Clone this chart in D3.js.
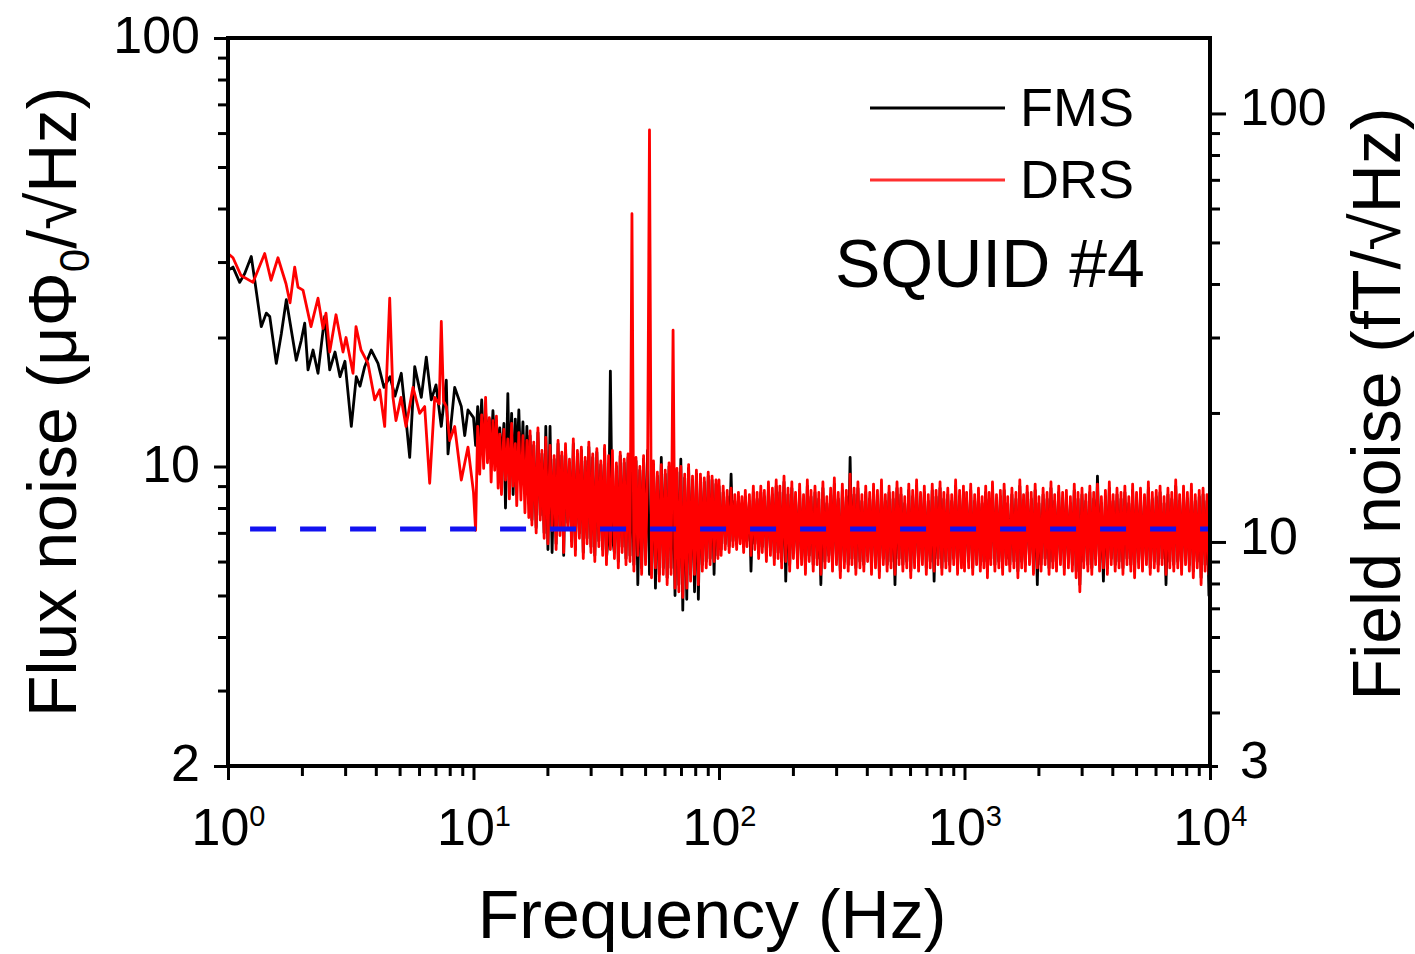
<!DOCTYPE html>
<html>
<head>
<meta charset="utf-8">
<script src="https://cdn.jsdelivr.net/npm/d3@7"></script>
<style>
  body { margin: 0; background: #fff; }
  svg { display: block; }
  text { font-family: "Liberation Sans", Arial, Helvetica, sans-serif; fill: #000; }
</style>
</head>
<body>
<svg id="chart" width="1415" height="954"></svg>
<script>
// ---------------- DATA ----------------
const xMajorTicks = [1, 10, 100, 1000, 10000];
const xTickExponents = ["0", "1", "2", "3", "4"];
const leftMajorTicks = [2, 10, 100];
const rightMajorTicks = [3, 10, 100];
const seriesNames = ["FMS", "DRS"];
const annotation = "SQUID #4";
const whiteNoiseLevel = 7.15;          // µΦ0/√Hz (blue dashed)
const whiteNoiseRange = [1.23, 10000]; // Hz

// Low-frequency part (1–10 Hz), read point by point
const fmsLowFreq = [
  1.000,1.048,1.116,1.170,1.244,1.285,1.366,1.432,1.479,1.573,
  1.649,1.728,1.811,1.897,1.988,2.053,2.118,2.220,2.326,2.477,
  2.596,2.729,2.859,2.995,3.179,3.332,3.449,3.604,3.834,4.083,
  4.319,4.570,4.788,5.080,5.260,5.497,5.762,6.129,6.423,6.731,
  7.035,7.393,7.748,7.873,8.383,8.920,9.209,9.497
];
const fmsLowNoise = [
  28.7,29.2,26.9,28.2,30.9,27.2,21.2,22.8,22.4,17.4,
  20.4,24.5,20.8,17.7,19.7,21.6,16.8,18.7,16.5,22.4,
  16.8,18.5,16.2,17.6,12.4,16.2,15.4,17.1,18.7,17.4,
  15.3,16.2,14.6,16.5,13.6,10.5,17.1,14.5,18.0,14.3,
  15.5,12.4,15.9,10.7,15.3,13.8,11.8,13.55
];
const drsLowFreq = [
  1.000,1.048,1.130,1.264,1.411,1.497,1.598,1.723,1.789,1.869,
  1.928,2.021,2.178,2.326,2.438,2.507,2.596,2.754,2.941,3.025,
  3.230,3.322,3.482,3.718,3.960,4.149,4.348,4.557,4.700,4.834,
  5.067,5.310,5.669,6.036,6.326,6.630,6.950,7.25,7.393,7.55,
  7.748,8.000,8.383,8.920,9.497
];
const drsLowNoise = [
  31.4,30.7,27.9,26.9,31.4,27.2,30.7,26.7,24.1,29.2,
  26.2,25.8,21.2,24.7,21.0,22.8,18.5,22.6,18.5,20.0,
  16.5,21.2,18.7,17.4,14.3,15.1,12.4,24.7,14.5,12.8,
  14.5,12.4,15.3,13.3,13.8,9.14,14.5,14.0,21.8,14.2,
  13.8,11.5,12.4,9.30,11.1
];

// Dense part (10 Hz – 10 kHz): common frequency grid (Hz)
const gridFreq = [
  10.0,10.2,10.4,10.6,10.8,11.0,11.2,11.4,11.6,11.8,
  12.0,12.2,12.4,12.6,12.8,13.0,13.3,13.5,13.8,14.0,
  14.3,14.5,14.8,15.0,15.3,15.6,15.9,16.2,16.5,16.8,
  17.0,17.3,17.6,18.0,18.3,18.7,19.0,19.4,19.7,20.1,
  20.5,20.9,21.3,21.7,22.1,22.5,22.9,23.3,23.7,24.2,
  24.6,25.1,25.5,26.0,26.5,27.0,27.5,28.0,28.5,29.0,
  29.5,30.1,30.6,31.2,31.8,32.4,33.0,33.6,34.2,34.8,
  35.5,36.1,36.8,37.5,38.2,38.9,39.6,40.3,41.1,41.8,
  42.6,43.4,44.2,45.0,45.9,46.7,47.6,48.4,49.3,50.2,
  51.2,52.1,53.1,54.1,55.1,56.1,57.1,58.2,59.3,60.4,
  61.5,62.6,63.8,65.0,66.2,67.4,68.6,69.9,71.2,72.5,
  73.9,75.2,76.6,78.0,79.5,80.9,82.4,84.0,85.5,87.1,
  88.7,90.4,92.0,93.7,95.5,97.2,99.0,
  100,102,104,106,108,110,112,114,116,118,
  120,122,124,126,128,130,133,135,138,140,
  143,145,148,150,153,156,159,162,165,168,
  171,174,177,180,184,187,191,194,198,201,
  205,209,213,217,221,225,229,233,237,242,
  246,251,255,260,265,270,275,280,285,290,
  295,301,306,312,318,324,330,336,342,348,
  355,361,368,375,382,389,396,403,411,418,
  426,434,442,450,459,467,476,484,493,502,
  512,521,531,541,551,561,571,582,593,604,
  615,626,638,650,662,674,686,699,712,725,
  739,752,766,780,795,809,824,840,855,871,
  887,904,920,937,955,972,990,
  1000,1020,1040,1060,1080,1100,1120,1140,1160,1180,
  1200,1220,1240,1260,1280,1300,1330,1350,1380,1400,
  1430,1450,1480,1500,1530,1560,1590,1620,1650,1680,
  1710,1740,1770,1800,1840,1870,1910,1940,1980,2010,
  2050,2090,2130,2170,2210,2250,2290,2330,2370,2420,
  2460,2510,2550,2600,2650,2700,2750,2800,2850,2900,
  2950,3010,3060,3120,3180,3240,3300,3360,3420,3480,
  3550,3610,3680,3750,3820,3890,3960,4030,4110,4180,
  4260,4340,4420,4500,4590,4670,4760,4840,4930,5020,
  5120,5210,5310,5410,5510,5610,5710,5820,5930,6040,
  6150,6260,6380,6500,6620,6740,6860,6990,7120,7250,
  7390,7520,7660,7800,7950,8090,8240,8400,8550,8710,
  8870,9040,9200,9370,9550,9720,9900,10000
];
// FMS (black) flux noise on the grid (µΦ0/√Hz)
const fmsGridNoise = [
  13.0,11.2,13.8,11.6,14.3,11.0,13.4,11.5,12.9,10.8,
  13.5,11.2,12.8,10.6,12.3,10.2,12.6,8.0,14.8,9.6,
  13.3,8.6,12.9,9.8,13.55,9.5,12.7,8.9,12.4,8.2,
  11.8,7.5,11.2,7.2,12.0,7.7,10.7,7.0,12.4,6.4,
  12.4,6.3,10.4,6.6,11.3,7.1,10.6,6.2,11.0,7.4,
  10.2,6.7,11.3,6.4,10.7,7.0,10.9,6.3,10.3,6.8,
  11.1,6.5,10.5,6.2,10.8,6.7,10.1,6.4,11.0,6.1,
  7.0,16.7,6.8,6.3,10.0,6.0,10.6,6.5,10.2,6.1,
  10.5,6.2,10.3,5.9,10.3,5.3,9.8,5.8,10.4,6.1,
  10.9,5.6,5.7,10.1,5.2,9.5,5.6,10.5,5.8,9.6,
  5.5,10.0,5.8,9.8,5.0,9.7,5.3,10.4,4.62,9.4,
  4.9,9.9,5.6,9.3,5.1,9.6,4.9,9.4,5.9,9.2,
  6.0,9.5,6.1,9.3,5.6,9.1,6.2,
  9.0,6.4,8.7,6.6,8.5,6.5,9.6,6.7,8.3,6.6,
  8.4,6.8,8.2,6.5,8.5,6.7,8.3,5.7,8.7,6.6,
  8.4,6.3,8.7,6.5,8.5,6.2,8.9,6.4,8.6,6.1,
  9.0,6.3,8.7,6.0,9.2,5.4,8.6,5.9,8.9,6.3,
  8.4,6.0,8.8,6.1,8.3,5.8,9.0,6.2,8.5,5.9,
  8.7,6.1,8.4,5.3,8.9,6.0,8.2,6.2,8.6,5.9,
  9.1,6.1,8.4,5.7,8.8,6.0,8.5,5.9,10.5,6.1,
  8.6,5.8,8.9,6.0,8.3,5.9,8.7,6.2,8.4,5.8,
  8.8,6.0,8.5,5.7,9.0,6.1,8.3,5.9,8.7,6.0,
  8.4,5.3,8.9,6.1,8.6,5.9,8.2,6.0,8.8,5.7,
  8.5,6.0,9.0,5.9,8.4,6.1,8.7,5.8,8.3,6.0,
  8.8,5.4,8.5,6.1,8.9,5.8,8.4,6.0,8.6,5.9,
  8.3,6.1,9.0,5.8,8.5,6.0,8.7,
  5.9,8.4,6.0,8.8,5.8,8.3,6.1,8.6,5.9,8.2,
  6.0,8.7,5.7,8.4,6.1,8.9,5.9,8.3,6.0,8.5,
  5.8,8.8,6.1,8.2,5.9,8.6,6.0,8.4,5.7,9.0,
  6.0,8.3,5.9,8.7,6.1,8.4,5.8,8.8,5.3,8.2,
  5.9,8.6,6.1,8.4,5.8,8.9,6.0,8.3,5.9,8.7,
  6.1,8.4,5.8,8.5,6.0,8.2,5.9,8.8,5.7,8.4,
  5.3,8.6,6.0,8.3,5.9,8.7,5.8,8.4,6.1,9.5,
  5.9,8.2,5.4,8.5,5.8,8.9,6.1,8.3,5.9,8.6,
  6.0,8.4,5.8,8.7,6.1,8.2,5.9,8.8,5.7,8.4,
  6.0,8.6,5.9,8.3,6.1,8.9,5.8,8.4,6.0,8.5,
  5.9,8.7,6.1,8.2,5.3,8.6,6.0,8.4,5.9,9.0,
  6.0,8.3,5.8,8.7,6.1,8.4,5.9,8.8,5.7,8.3,
  6.0,8.5,5.5,8.6,5.9,8.3,5.0,6.8
];
// DRS (red) flux noise on the grid (µΦ0/√Hz)
const drsGridNoise = [
  8.7,7.1,12.4,9.6,13.2,9.9,14.5,10.2,13.0,9.2,
  12.8,9.8,13.1,8.9,11.9,8.6,12.2,9.3,11.6,8.4,
  12.6,9.0,11.3,8.1,12.0,8.35,11.8,7.8,11.5,7.6,
  12.1,7.3,11.4,7.0,12.3,7.5,10.9,6.8,11.7,6.6,
  11.2,7.1,10.6,6.4,11.5,6.9,10.8,6.3,11.3,7.2,
  10.4,6.5,11.6,6.2,10.9,6.8,11.1,6.1,10.5,6.6,
  11.4,6.3,10.7,6.0,11.0,6.5,10.3,6.2,11.2,5.9,
  10.6,6.4,10.9,6.1,10.2,5.8,10.8,6.3,10.4,5.9,
  10.7,6.0,38.9,5.7,10.5,6.2,10.0,5.6,10.6,5.9,
  9.9,61.0,5.5,10.3,5.8,9.7,5.4,10.1,5.6,9.8,
  5.3,10.2,5.6,20.8,5.2,9.9,5.1,10.0,4.95,9.6,
  5.2,10.1,5.4,9.5,5.6,9.8,5.3,9.6,5.7,9.4,
  5.8,9.7,5.9,9.5,6.0,9.3,6.1,
  9.3,6.2,9.0,6.4,8.8,6.3,8.9,6.5,8.6,6.4,
  8.7,6.6,8.5,6.3,8.8,6.5,8.6,6.2,9.0,6.4,
  8.7,6.1,9.0,6.3,8.8,6.0,9.2,6.2,8.9,5.9,
  9.3,6.1,9.0,5.8,9.5,6.0,8.9,5.7,9.2,6.1,
  8.7,5.8,9.1,5.9,8.6,5.6,9.3,6.0,8.8,5.7,
  9.0,5.9,8.7,5.6,9.2,5.8,8.5,6.0,8.9,5.7,
  9.4,5.9,8.7,5.5,9.1,5.8,8.8,5.7,9.6,5.9,
  8.9,5.6,9.2,5.8,8.6,5.7,9.0,6.0,8.7,5.6,
  9.1,5.8,8.8,5.5,9.3,5.9,8.6,5.7,9.0,5.8,
  8.7,5.6,9.2,5.9,8.9,5.7,8.5,5.8,9.1,5.5,
  8.8,5.8,9.3,5.7,8.7,5.9,9.0,5.6,8.6,5.8,
  9.1,5.7,8.8,5.9,9.2,5.6,8.7,5.8,8.9,5.7,
  8.6,5.9,9.3,5.6,8.8,5.8,9.0,
  5.7,8.7,5.8,9.1,5.6,8.6,5.9,8.9,5.7,8.5,
  5.8,9.0,5.5,8.7,5.9,9.2,5.7,8.6,5.8,8.8,
  5.6,9.1,5.9,8.5,5.7,8.9,5.8,8.7,5.5,9.3,
  5.8,8.6,5.7,9.0,5.9,8.7,5.6,9.1,5.8,8.5,
  5.7,8.9,5.9,8.7,5.6,9.2,5.8,8.6,5.7,9.0,
  5.9,8.7,5.6,8.8,5.8,8.5,5.7,9.1,5.5,8.7,
  5.1,8.9,5.8,8.6,5.7,9.0,5.6,8.7,5.9,9.1,
  5.7,8.5,5.8,8.8,5.6,9.2,5.9,8.6,5.7,8.9,
  5.8,8.7,5.6,9.0,5.9,8.5,5.7,9.1,5.5,8.7,
  5.8,8.9,5.7,8.6,5.9,9.2,5.6,8.7,5.8,8.8,
  5.7,9.0,5.9,8.5,5.6,8.9,5.8,8.7,5.7,9.3,
  5.8,8.6,5.6,9.0,5.9,8.7,5.7,9.1,5.5,8.6,
  5.8,8.8,5.3,8.9,5.7,8.6,5.6,7.2
];

// ---------------- CHART ----------------
const svg = d3.select("#chart");
const plot = { left: 228, right: 1210, top: 38, bottom: 766 };

const x  = d3.scaleLog().domain([1, 1e4]).range([plot.left, plot.right]);
const yL = d3.scaleLog().domain([2, 100]).range([plot.bottom, plot.top]);
const yR = d3.scaleLog().domain([3, 150]).range([plot.bottom, plot.top]);

const fmsFreq = fmsLowFreq.concat(gridFreq), fmsNoise = fmsLowNoise.concat(fmsGridNoise);
const drsFreq = drsLowFreq.concat(gridFreq), drsNoise = drsLowNoise.concat(drsGridNoise);
const zip = (f, v) => f.map((d, i) => ({ f: d, v: v[i] })).filter(d => d.v != null);
const fms = zip(fmsFreq, fmsNoise);
const drs = zip(drsFreq, drsNoise);

svg.append("defs").append("clipPath").attr("id", "plotClip")
  .append("rect")
  .attr("x", plot.left).attr("y", plot.top)
  .attr("width", plot.right - plot.left).attr("height", plot.bottom - plot.top);

const line = d3.line().x(d => x(d.f)).y(d => yL(d.v));
const gData = svg.append("g").attr("clip-path", "url(#plotClip)");

gData.append("path").datum(fms).attr("d", line)
  .attr("fill", "none").attr("stroke", "#000").attr("stroke-width", 2.8)
  .attr("stroke-linejoin", "round");
gData.append("path").datum(drs).attr("d", line)
  .attr("fill", "none").attr("stroke", "#ff0000").attr("stroke-width", 2.8)
  .attr("stroke-linejoin", "round");
gData.append("path")
  .datum(whiteNoiseRange.map(f => ({ f, v: whiteNoiseLevel })))
  .attr("d", line)
  .attr("fill", "none").attr("stroke", "#1212f0").attr("stroke-width", 5)
  .attr("stroke-dasharray", "26,24");

// frame
svg.append("rect")
  .attr("x", plot.left).attr("y", plot.top)
  .attr("width", plot.right - plot.left).attr("height", plot.bottom - plot.top)
  .attr("fill", "none").attr("stroke", "#000").attr("stroke-width", 4);

function styleAxis(g) {
  g.select(".domain").remove();
  g.selectAll(".tick line").attr("stroke", "#000").attr("stroke-width", 3);
  g.selectAll(".tick text").style("font-size", "52px").attr("fill", "#000");
}

// left axis
const leftMinor = yL.ticks().filter(t => !leftMajorTicks.includes(t));
svg.append("g").attr("transform", `translate(${plot.left},0)`)
  .call(d3.axisLeft(yL).tickValues(leftMinor).tickSize(10).tickFormat(""))
  .call(styleAxis);
svg.append("g").attr("transform", `translate(${plot.left},0)`)
  .call(d3.axisLeft(yL).tickValues(leftMajorTicks).tickSize(14).tickPadding(14).tickFormat(d3.format("d")))
  .call(styleAxis)
  .call(g => g.selectAll(".tick text").attr("dy", "0.28em"));

// right axis
const rightMinor = yR.ticks().filter(t => !rightMajorTicks.includes(t));
svg.append("g").attr("transform", `translate(${plot.right},0)`)
  .call(d3.axisRight(yR).tickValues(rightMinor).tickSize(10).tickFormat(""))
  .call(styleAxis);
svg.append("g").attr("transform", `translate(${plot.right},0)`)
  .call(d3.axisRight(yR).tickValues(rightMajorTicks).tickSize(16).tickPadding(14).tickFormat(d3.format("d")))
  .call(styleAxis)
  .call(g => g.selectAll(".tick text").attr("dy", "0.22em"))
  .call(g => g.selectAll(".tick").filter(d => d === 3).select("line").attr("x2", 8));

// bottom axis
const xMinor = x.ticks().filter(t => !xMajorTicks.includes(t));
svg.append("g").attr("transform", `translate(0,${plot.bottom})`)
  .call(d3.axisBottom(x).tickValues(xMinor).tickSize(10).tickFormat(""))
  .call(styleAxis);
const xAx = svg.append("g").attr("transform", `translate(0,${plot.bottom})`)
  .call(d3.axisBottom(x).tickValues(xMajorTicks).tickSize(14).tickFormat(""))
  .call(styleAxis);
xAx.selectAll(".tick").each(function (d, i) {
  const t = d3.select(this).append("text")
    .attr("y", 79).attr("text-anchor", "middle").style("font-size", "52px").attr("fill", "#000");
  t.append("tspan").text("10");
  t.append("tspan").attr("dy", "-0.66em").style("font-size", "29px").text(xTickExponents[i]);
});

// axis titles
svg.append("text").attr("x", 712).attr("y", 938).attr("text-anchor", "middle")
  .style("font-size", "68px").text("Frequency (Hz)");

const lt = svg.append("text").attr("transform", "translate(76,402) rotate(-90)")
  .attr("text-anchor", "middle").style("font-size", "68px");
lt.append("tspan").text("Flux noise (μΦ");
lt.append("tspan").attr("dy", "0.3em").style("font-size", "42px").text("0");
lt.append("tspan").attr("dy", "-0.18em").text("/√Hz)");

svg.append("text").attr("transform", "translate(1400,404) rotate(-90)")
  .attr("text-anchor", "middle").style("font-size", "68px").text("Field noise (fT/√Hz)");

// legend
const legendColors = ["#000", "#ff3030"];
const legendY = [108, 180];
seriesNames.forEach((name, i) => {
  svg.append("line").attr("x1", 870).attr("x2", 1005)
    .attr("y1", legendY[i]).attr("y2", legendY[i])
    .attr("stroke", legendColors[i]).attr("stroke-width", 3);
  svg.append("text").attr("x", 1020).attr("y", legendY[i] + 18)
    .style("font-size", "54px").text(name);
});
svg.append("text").attr("x", 835).attr("y", 287).style("font-size", "68px").text(annotation);

if (fmsFreq.length !== fmsNoise.length || drsFreq.length !== drsNoise.length) {
  throw new Error(`length mismatch fms ${fmsFreq.length}/${fmsNoise.length} drs ${drsFreq.length}/${drsNoise.length}`);
}
</script>
</body>
</html>
